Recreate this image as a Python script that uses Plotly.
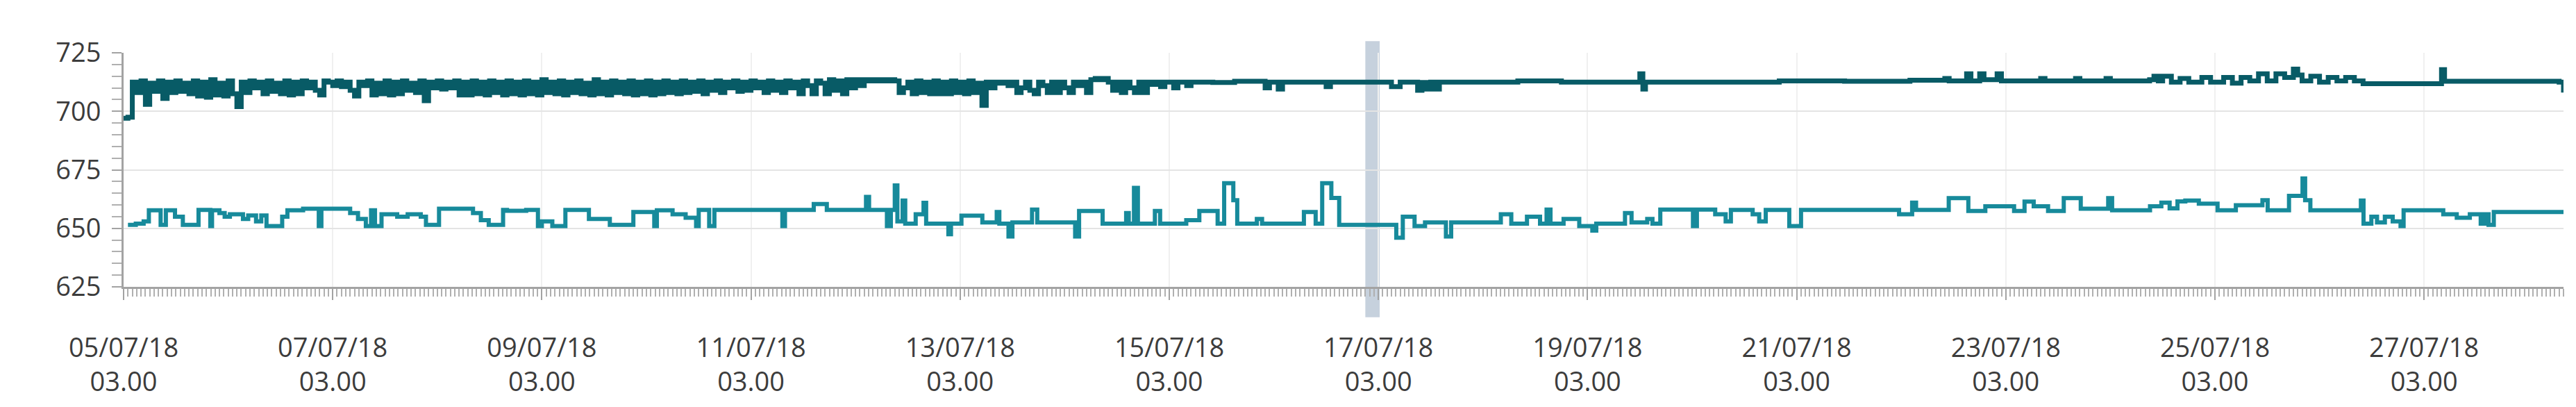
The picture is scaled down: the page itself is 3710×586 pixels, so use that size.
import pandas as pd
import plotly.graph_objects as go

start = pd.Timestamp("2018-07-05 03:00")

# Upper series (hourly readings, hours since 05/07/18 03.00)
upper_hourly_values = [
    697, 697.5, 712.5, 708, 713, 703, 712, 708.5, 713, 705.5,
    712.5, 708, 713, 708.5, 712, 707.5, 713, 706.5, 712.5, 706,
    713.5, 707, 712, 706.5, 713, 707.5, 702, 712.5, 708, 713,
    710, 712.5, 707.5, 713, 708.5, 712, 707.5, 713, 707, 712.5,
    707.5, 713, 710, 712.5, 709, 707, 713, 712.5, 711, 713,
    710.5, 712.5, 709, 706.5, 712.5, 711, 713, 707, 712, 707.5,
    713, 707, 712.5, 707.5, 713, 709, 712, 708, 713, 704.5,
    712.5, 710, 713, 709.5, 712.5, 710, 713, 707, 712.5, 707,
    713, 707.5, 712.5, 707, 713, 708, 712.5, 707, 713, 707.5,
    712.5, 707, 713, 707.5, 712.5, 707, 713.5, 708, 712.5, 707.5,
    713, 707, 712.5, 708, 713, 707.5, 712, 707, 713.5, 707.5,
    712.5, 707, 713, 708, 712.5, 707.5, 713, 707, 712.5, 707.5,
    713, 707, 712.5, 707.5, 713, 708, 712.5, 707.5, 713, 708,
    712.5, 708.5, 713, 707.5, 712.5, 709, 713, 708, 712.5, 710,
    713, 708.5, 712.5, 709, 713, 710, 712.5, 708, 713, 709,
    712.5, 708, 713, 710, 712.5, 707.5, 713, 711, 707.5, 713,
    712, 707.5, 713.5, 709, 713, 707.5, 713.5, 710, 713.5, 711,
    713.5, 713, 713.5, 713, 713.5, 713, 713.5, 713, 708, 710,
    712.5, 707.5, 713, 708, 712.5, 707.5, 713, 707.5, 712.5, 707.5,
    713, 708, 712.5, 707.5, 713, 708, 712, 702.5, 712.5, 710,
    712.5, 712, 712.5, 711, 712.5, 708, 710, 712.5, 709, 707.5,
    712.5, 711, 708, 712.5, 708, 712.5, 710, 708, 712.5, 711,
    712.5, 708, 713.5, 714, 713.5, 714, 712.5, 709, 712.5, 708,
    712.5, 710, 708, 712.5, 708, 712.5, 711.5, 712.5, 710.5, 712.5,
    712.5, 710, 712.5, 712.5, 711, 712.5,
]
upper_later_hours = [
    247, 250, 255, 262, 263, 265, 266, 276, 277, 291, 293, 297, 298, 299, 300,
    301, 302, 320, 330, 348, 348.7, 349.3, 380, 395, 410, 418, 419, 423, 424,
    426, 427, 430, 431, 440, 441, 448, 449, 455, 456, 465, 466, 467, 468, 470,
    472, 474, 477, 479, 482, 484, 486, 488, 490, 492, 494, 496, 498, 499, 500,
    502, 504, 506, 508, 510, 512, 514, 532, 532.7, 559, 560,
]
upper_later_values = [
    712.5, 712.3, 712.8, 710, 712.5, 709.5, 712.5, 710.5, 712.5, 710.5, 712.5, 709, 712.3, 709.5, 712.5,
    709.5, 712.5, 713, 712.5, 716, 709.5, 712.5, 713, 712.8, 713.3, 714, 713, 716, 713,
    716, 713.5, 716, 713, 714, 713, 714, 713, 714, 713, 713.5, 715, 713, 715, 712.5,
    714, 712.5, 714.5, 712.5, 714.5, 712, 714.5, 713, 716, 713, 716, 714.5, 718, 715.5, 713,
    715, 712.5, 714.5, 713, 714.5, 713, 711.8, 717.8, 712.8, 712.5, 708,
]

# Lower series (change points, hours since 05/07/18 03.00)
lower_hours = [
    1.0, 2.8, 4.6, 5.8, 8.5, 9.7, 11.8, 13.6, 17.2, 19.9, 20.3, 22.0, 23.2, 24.4, 27.4,
    28.6, 30.4, 31.6, 32.8, 36.4, 37.6, 41.2, 44.8, 45.4, 52.0, 53.8, 55.6, 56.8, 57.7,
    59.2, 62.8, 65.2, 68.2, 69.4, 72.4, 80.2, 82.0, 83.8, 87.1, 88.0,
    92.4, 95.1, 96.0, 98.4, 101.4, 106.8, 111.6, 117.0, 121.8, 122.4, 126.0, 129.0,
    131.4, 132.0, 134.4, 135.6, 151.2, 151.8, 158.4, 161.4, 170.4, 171.1, 175.2, 176.1,
    177.0, 177.6, 178.8, 179.4, 181.8, 183.6, 184.2,
    185.7, 189.3, 189.9, 192.3, 197.1, 200.4, 201.0, 203.1, 204.0, 208.5, 209.7, 218.4,
    219.3, 224.7, 230.1, 230.7, 231.9, 232.8, 236.7, 237.9, 243.9, 246.9, 251.1, 252.6,
    254.7, 255.6, 260.1, 261.3, 270.9, 273.6, 275.1, 277.2, 279.0,
    292.1, 293.6, 296.3, 298.7, 303.5, 304.7, 316.1, 318.5, 322.1, 325.1, 326.6, 327.5,
    330.5, 334.1, 337.1, 338.0, 344.6, 346.1, 349.7, 350.9, 352.7, 360.2, 361.1, 365.3,
    367.7, 368.9,
    373.9, 375.4, 376.9, 382.3, 385.0, 407.5, 410.5, 411.4, 418.9, 423.4, 427.3, 433.9,
    436.3, 438.4, 441.7, 445.3, 449.2, 455.5, 456.4, 465.1,
    467.7, 469.6, 471.4, 473.2, 476.3, 480.6, 484.8, 490.9, 492.1, 497.0, 500.1, 500.7,
    501.9, 513.5, 514.1, 515.9, 517.2, 519.0, 520.8, 522.6, 523.3, 532.4, 535.5, 538.5,
    541.0, 541.9, 542.8, 544.0, 560.0,
]
lower_values = [
    651.5, 652, 653, 657.7, 651.5, 657.7, 655, 651.5, 657.9, 651, 657.7, 656.5, 655, 656, 654,
    655.5, 653, 655.5, 651, 655, 657.7, 658.4, 651, 658.4, 656.5, 654, 651, 657.7, 651,
    656, 655, 656, 655, 651.5, 658.4, 656.5, 653.5, 651.5, 657.9, 657.5,
    657.9, 651, 653, 651, 657.9, 654, 651.5, 657, 651, 657.7, 656, 654.5,
    651, 657.9, 651, 657.9, 651, 657.9, 660.4, 657.9, 663.4, 657.9, 651, 657.9,
    668.3, 653, 661.9, 652, 656, 660.9, 652,
    652, 647.5, 652, 655.4, 652.5, 657, 652, 646.5, 652.5, 658, 652.5, 646.5,
    657.4, 652, 656.5, 652, 667.3, 652, 657.4, 652, 653.5, 657.4, 652, 669.3,
    662, 652, 654, 652, 657, 652, 669.3, 663, 651.5,
    646, 655, 651, 652.5, 646.5, 652.5, 656, 652, 655, 652, 658, 652,
    654, 651, 649, 652, 656.5, 652.5, 654, 652, 658, 651, 658, 656,
    653, 657.9,
    656, 653, 657.9, 651, 657.9, 656, 661, 657.9, 662.9, 657.4, 659.4, 657.4,
    661.4, 659.4, 657.4, 662.9, 658.4, 662.9, 657.7, 659.4,
    661, 658.5, 661.5, 661.9, 660.5, 657.7, 659.9, 662, 657.7, 663.9, 671.3, 662,
    657.7, 661.9, 652, 655, 652.5, 655, 653, 651, 657.7, 656, 654.5, 656,
    652, 656, 651.5, 657, 657,
]

# Highlighted interval (hours since start)
band_hours = [285.0, 288.3]

y_ticks = [625, 650, 675, 700, 725]
x_span_hours = [0, 560]

upper_hours = list(range(len(upper_hourly_values))) + upper_later_hours
upper_values = upper_hourly_values + upper_later_values


def to_time(hours):
    return [start + pd.Timedelta(hours=h) for h in hours]


fig = go.Figure()
fig.add_trace(go.Scatter(
    x=to_time(upper_hours), y=upper_values, mode="lines",
    line=dict(color="#085b66", width=7, shape="hv"), showlegend=False,
))
fig.add_trace(go.Scatter(
    x=to_time(lower_hours), y=lower_values, mode="lines",
    line=dict(color="#178a9b", width=6, shape="hv"), showlegend=False,
))

b0, b1 = to_time(band_hours)
fig.add_shape(type="rect", xref="x", yref="paper", x0=b0, x1=b1, y0=-0.13, y1=1.05,
              fillcolor="#c6d1dd", line=dict(width=0), layer="below")

font_family = "Open Sans, Noto Sans, sans-serif"
x0, x1 = to_time(x_span_hours)
fig.update_layout(
    width=3710, height=586,
    margin=dict(l=170, r=26, t=68, b=181),
    paper_bgcolor="white", plot_bgcolor="white",
    font=dict(family=font_family, size=38, color="#3c3c3c"),
)
fig.update_xaxes(
    type="date", range=[x0, x1],
    tick0=start, dtick=2 * 86400000, tickformat="%d/%m/%y<br>%H.%M",
    showgrid=True, gridcolor="#f0f0f0", gridwidth=2,
    showline=True, linecolor="#a3a3a3", linewidth=3,
    ticks="outside", ticklen=16, tickwidth=2, tickcolor="#a3a3a3",
    minor=dict(dtick=3600000, ticks="outside", ticklen=11, tickwidth=1.5,
               tickcolor="#b0b0b0", showgrid=False),
    ticklabelstandoff=36,
    tickfont=dict(size=38, color="#3c3c3c"),
    zeroline=False,
)
fig.update_yaxes(
    range=[625, 725], tickvals=y_ticks,
    showgrid=True, gridcolor="#e4e4e4", gridwidth=2,
    showline=True, linecolor="#a3a3a3", linewidth=3,
    ticks="outside", ticklen=14, tickwidth=2, tickcolor="#a3a3a3",
    minor=dict(dtick=5, tick0=625, ticks="outside", ticklen=14, tickwidth=1.5,
               tickcolor="#b0b0b0", showgrid=False),
    ticklabelstandoff=8,
    tickfont=dict(size=38, color="#3c3c3c"),
    zeroline=False,
)

fig.write_html("out.html")
